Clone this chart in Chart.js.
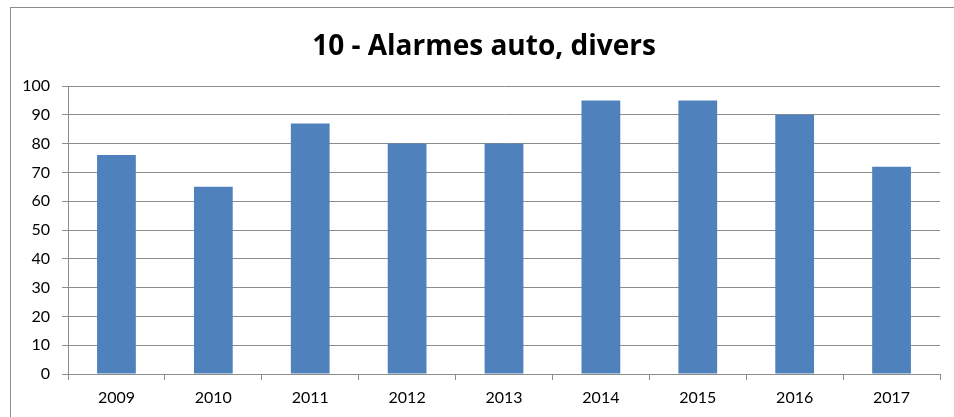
<!DOCTYPE html>
<html>
<head>
<meta charset="utf-8">
<script src="https://cdn.jsdelivr.net/npm/chart.js@4"></script>
<style>
html,body{margin:0;padding:0;background:#fff;}
#wrap{width:954px;height:417px;position:relative;}
</style>
</head>
<body>
<div id="wrap"><canvas id="c" width="954" height="417"></canvas></div>
<script>
const categories = ["2009","2010","2011","2012","2013","2014","2015","2016","2017"];
const values = [76, 65, 87, 80, 80, 95, 95, 90, 72];
const yTicks = [0,10,20,30,40,50,60,70,80,90,100];
const titleText = "10 - Alarmes auto, divers";

const frame = {
  id: 'frame',
  beforeDraw(chart) {
    const ctx = chart.ctx;
    ctx.save();
    ctx.fillStyle = '#fff';
    ctx.fillRect(0, 0, chart.width, chart.height);
    ctx.strokeStyle = '#8c8c8c';
    ctx.lineWidth = 1;
    ctx.strokeRect(10.5, 7.5, 980, 440);
    ctx.restore();
  }
};

const titlePlugin = {
  id: 'titleText',
  afterDraw(chart) {
    const ctx = chart.ctx;
    ctx.save();
    ctx.fillStyle = '#000';
    ctx.font = 'bold 28px "Open Sans"';
    ctx.textAlign = 'center';
    ctx.textBaseline = 'middle';
    ctx.fillText(titleText, 484, 46.8);
    ctx.restore();
  }
};

new Chart(document.getElementById('c'), {
  type: 'bar',
  data: {
    labels: categories,
    datasets: [{
      data: values,
      backgroundColor: '#4F81BD',
      borderWidth: 0,
      barPercentage: 0.4,
      categoryPercentage: 1.0
    }]
  },
  options: {
    responsive: false,
    animation: false,
    devicePixelRatio: 1,
    layout: { padding: { left: 0, right: 14, top: 86, bottom: 0 } },
    plugins: {
      legend: { display: false },
      tooltip: { enabled: false },
      title: { display: false }
    },
    scales: {
      x: {
        offset: true,
        grid: { offset: true, drawOnChartArea: false, drawTicks: true, tickLength: 6, color: '#8c8c8c' },
        border: { color: '#8c8c8c' },
        ticks: { color: '#000', font: { family: 'Lato', size: 16 }, padding: 8, maxRotation: 0 },
        afterFit(s) { s.height = 43; }
      },
      y: {
        min: 0, max: 100,
        afterBuildTicks(s) { s.ticks = yTicks.map(v => ({ value: v })); },
        grid: { color: '#8c8c8c', tickLength: 6 },
        border: { color: '#8c8c8c' },
        ticks: { color: '#000', font: { family: 'Lato', size: 16 }, padding: 12 },
        afterFit(s) { s.width = 68; }
      }
    }
  },
  plugins: [frame, titlePlugin]
});
</script>
</body>
</html>
